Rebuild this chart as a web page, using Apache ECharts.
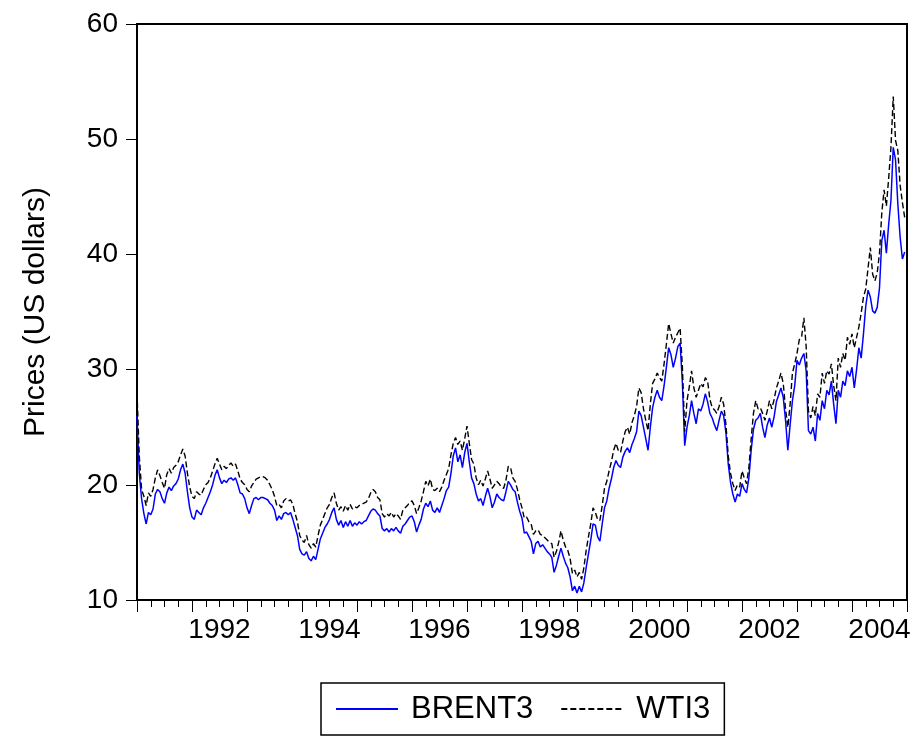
<!DOCTYPE html>
<html>
<head>
    <meta charset="utf-8" />
    <title>Brent vs WTI</title>
    <script src="https://cdn.jsdelivr.net/npm/echarts@6/dist/echarts.min.js"></script>
    <style>
        body { margin: 0; padding: 0; background: #fff; }
        #main { width: 920px; height: 736px; }
    </style>
</head>
<body>
<div id="main"></div>
<script type="text/javascript">
    // semimonthly observations, 24 per year, starting Jan 1991
    var startYear = 1991;
    var perYear = 24;
    var yearLabels = ['1991', '1992', '1993', '1994', '1995', '1996', '1997',
        '1998', '1999', '2000', '2001', '2002', '2003', '2004'];
    var yTicks = [10, 20, 30, 40, 50, 60];

    var brent = [
        26.0, 21.0, 18.8, 17.5, 16.6, 17.6, 17.4, 17.9, 19.2, 19.6, 19.4, 18.8, 18.4, 19.3, 19.8, 19.5, 19.9, 20.1, 20.5, 21.3, 21.8, 21.0, 19.4, 18.0,
        17.2, 17.0, 17.8, 17.6, 17.4, 18.0, 18.4, 18.9, 19.4, 20.0, 20.8, 21.3, 20.6, 20.1, 20.4, 20.2, 20.5, 20.6, 20.4, 20.6, 20.0, 19.3, 19.2, 18.8,
        18.0, 17.5, 18.2, 18.8, 18.9, 18.7, 18.9, 18.9, 18.8, 18.7, 18.4, 18.2, 17.8, 16.9, 17.3, 17.0, 17.5, 17.6, 17.4, 17.6, 17.0, 16.3, 15.6, 14.4,
        14.0, 13.9, 14.2, 13.6, 13.4, 13.8, 13.5, 14.4, 15.3, 15.8, 16.3, 16.6, 17.0, 17.6, 18.0, 17.0, 16.5, 16.9, 16.3, 16.8, 16.4, 16.9, 16.4, 16.7,
        16.5, 16.8, 16.6, 16.8, 16.9, 17.3, 17.7, 17.9, 17.8, 17.5, 17.3, 16.2, 16.0, 16.2, 15.9, 16.2, 16.0, 16.3, 16.0, 15.8, 16.4, 16.6, 16.9, 17.2,
        17.3, 16.8, 15.9, 16.5, 17.0, 17.9, 18.4, 18.1, 18.6, 17.8, 17.6, 18.0, 17.6, 18.2, 18.8, 19.5, 19.8, 21.0, 22.5, 23.2, 22.0, 22.6, 21.5, 22.8,
        23.6, 22.0, 20.6, 20.1, 19.2, 18.6, 18.8, 18.2, 19.0, 19.7, 19.0, 18.0, 18.5, 19.2, 18.9, 18.7, 18.6, 19.4, 20.3, 20.0, 19.6, 19.4, 18.5, 17.7,
        17.1, 15.8, 15.9, 15.5, 15.1, 14.0, 14.9, 15.1, 14.6, 14.8, 14.5, 14.2, 14.0, 13.7, 12.4, 13.0, 13.8, 14.5, 13.8, 13.2, 12.8, 12.0, 10.8, 11.2,
        10.6, 11.2, 10.7, 11.5, 12.8, 14.0, 15.2, 16.6, 16.5, 15.5, 15.1, 16.6, 18.0, 18.6, 19.7, 20.5, 21.5, 22.1, 21.7, 21.5, 22.4, 22.9, 23.2, 22.8,
        23.5, 24.0, 24.6, 26.4, 26.0, 25.0, 24.0, 23.0, 25.0, 26.7, 27.6, 28.2, 27.6, 27.3, 28.6, 30.2, 31.9, 31.3, 30.2, 31.0, 32.0, 32.3, 28.8, 23.4,
        25.0, 26.0, 27.3, 26.2, 25.3, 26.6, 26.4, 27.0, 27.9, 27.2, 26.2, 25.8, 25.2, 24.7, 25.6, 26.4, 26.0, 24.5, 21.8, 20.2, 19.2, 18.5, 19.2, 19.0,
        20.1, 19.6, 19.3, 20.6, 23.0, 24.8, 25.6, 25.8, 26.2, 25.0, 24.1, 25.2, 25.8, 25.0, 25.9, 27.2, 27.8, 28.4, 27.6, 25.6, 23.0, 25.2, 27.3, 28.6,
        30.8, 30.4, 31.0, 31.4, 29.9, 24.7, 24.4, 25.0, 23.8, 26.2, 25.6, 27.3, 26.6, 28.2, 27.8, 29.0, 27.0, 25.3, 28.2, 27.6, 29.0, 28.6, 29.9, 29.4,
        30.2, 28.4, 30.0, 31.9, 31.0, 33.1, 35.5, 36.9, 36.3, 35.1, 34.9, 35.4, 37.1, 41.2, 42.1, 40.1, 42.6, 44.7, 49.3, 48.2, 44.4, 41.5, 39.6, 40.2
    ];

    var wti = [
        28.0, 22.5, 19.6, 19.0, 18.2, 19.3, 19.0, 19.6, 20.6, 21.3, 20.8, 20.2, 19.7, 20.9, 21.4, 21.0, 21.5, 21.7, 22.0, 22.6, 23.1, 22.5, 21.0, 19.8,
        19.0, 18.8, 19.4, 19.2, 19.1, 19.6, 20.0, 20.2, 20.6, 21.2, 21.8, 22.3, 21.8, 21.3, 21.6, 21.4, 21.7, 21.9, 21.6, 21.8, 21.2, 20.5, 20.2, 20.0,
        19.6, 19.4, 19.9, 20.2, 20.5, 20.6, 20.7, 20.7, 20.6, 20.4, 20.0, 19.6, 19.0, 18.2, 18.3, 18.0, 18.6, 18.8, 18.6, 18.7, 18.3, 17.5, 16.8, 15.6,
        15.2, 15.0, 15.6, 14.8, 14.5, 14.9, 14.6, 15.6, 16.5, 17.0, 17.5, 18.0, 18.3, 18.9, 19.3, 18.4, 17.8, 18.1, 17.7, 18.2, 17.8, 18.3, 17.9, 18.1,
        18.0, 18.2, 18.3, 18.4, 18.5, 18.8, 19.3, 19.6, 19.4, 18.9, 18.7, 17.5, 17.2, 17.5, 17.3, 17.6, 17.2, 17.5, 17.3, 17.0, 17.8, 18.0, 18.2, 18.5,
        18.6, 18.2, 17.5, 18.0, 18.6, 19.4, 20.3, 19.9, 20.5, 19.6, 19.5, 19.7, 19.4, 19.8, 20.4, 20.9, 21.4, 22.6, 23.6, 24.1, 23.5, 23.8, 23.0, 24.0,
        25.1, 23.6, 22.2, 21.8, 20.6, 20.0, 20.4, 19.9, 20.5, 21.2, 20.5, 19.7, 20.0, 20.3, 20.1, 19.8, 19.7, 20.4, 21.6, 21.5, 20.6, 20.3, 19.6, 18.7,
        18.0, 17.1, 17.2, 16.8, 16.6, 15.7, 16.0, 16.1, 15.7, 15.6, 15.4, 15.2, 15.0, 14.9, 13.7, 14.2, 15.0, 16.0, 15.2, 14.6, 14.3, 13.6, 12.3, 12.6,
        12.0, 12.4, 11.8, 12.8, 14.3, 15.5, 16.6, 18.0, 17.6, 17.0, 16.9, 18.2, 19.7, 20.3, 21.2, 22.0, 23.0, 23.6, 23.0, 22.8, 23.8, 24.6, 25.0, 24.4,
        25.4, 26.0, 26.8, 28.4, 28.0, 26.6, 25.6, 24.7, 27.0, 28.8, 29.2, 29.7, 29.3, 29.0, 30.5, 32.2, 34.0, 33.1, 32.3, 32.8, 33.2, 33.6, 30.2, 24.6,
        27.3, 28.5, 29.9, 28.4, 27.6, 28.2, 28.8, 28.5, 29.3, 29.0, 27.4, 26.7, 26.5, 26.2, 26.8, 27.6, 27.0, 25.2, 22.5, 21.0, 20.1, 19.5, 20.0, 19.8,
        21.2, 20.6, 20.1, 21.5, 24.0, 26.2, 27.3, 26.6, 26.7, 26.2, 25.6, 26.4, 27.3, 26.6, 27.4, 28.4, 29.0, 29.7, 28.8, 26.6, 25.0, 27.0, 29.7, 30.5,
        31.4, 32.6, 32.8, 34.5, 32.0, 26.4, 25.8, 26.8, 26.0, 27.9, 27.6, 29.7, 28.8, 29.9, 29.6, 30.5, 28.6, 27.3, 31.0, 30.2, 31.4, 30.8, 32.8, 32.2,
        33.1, 31.9, 32.8, 33.7, 34.9, 36.3, 37.0, 38.8, 40.6, 38.3, 37.7, 38.4, 40.1, 43.6, 45.6, 44.2, 46.6, 49.3, 53.7, 49.9, 49.0, 46.0, 44.5, 43.2
    ];

    function toPairs(values) {
        return values.map(function (v, i) {
            return [startYear + i / perYear, v];
        });
    }

    var fontName = 'Liberation Sans';
    var myChart = echarts.init(document.getElementById('main'));

    var option = {
        animation: false,
        backgroundColor: '#fff',
        textStyle: { fontFamily: fontName, color: '#000' },
        grid: {
            left: 137,
            right: 13,
            top: 24,
            bottom: 136,
            show: true,
            borderColor: '#000',
            borderWidth: 2
        },
        legend: {
            left: 321,
            top: 683,
            padding: [10, 14, 10, 14],
            borderColor: '#000',
            borderWidth: 1.5,
            itemWidth: 62,
            itemHeight: 14,
            itemGap: 27,
            itemStyle: { opacity: 0 },
            textStyle: { fontFamily: fontName, fontSize: 31, color: '#000', padding: [0, 0, 0, 8], lineHeight: 32 },
            data: ['BRENT3', 'WTI3']
        },
        xAxis: [
            {
                // quarterly minor ticks
                type: 'value',
                position: 'bottom',
                min: 1991,
                max: 2005,
                interval: 0.25,
                axisLine: { show: true, lineStyle: { color: '#000', width: 2 } },
                axisTick: { show: true, length: 7, lineStyle: { color: '#000', width: 1 } },
                axisLabel: { show: false },
                splitLine: { show: false }
            },
            {
                // yearly major ticks, labels in the middle of each year
                type: 'category',
                position: 'bottom',
                data: yearLabels,
                boundaryGap: true,
                axisLine: { show: false },
                axisTick: { show: true, length: 12, interval: 0, alignWithLabel: false, lineStyle: { color: '#000', width: 1 } },
                axisLabel: {
                    interval: function (index, value) { return Number(value) % 2 === 0; },
                    fontFamily: fontName,
                    fontSize: 28,
                    color: '#000',
                    margin: 16
                },
                splitLine: { show: false }
            }
        ],
        yAxis: {
            type: 'value',
            min: yTicks[0],
            max: yTicks[yTicks.length - 1],
            interval: 10,
            name: 'Prices (US dollars)',
            nameLocation: 'middle',
            nameGap: 86,
            nameTextStyle: { fontFamily: fontName, fontSize: 30, color: '#000' },
            axisLine: { show: true, lineStyle: { color: '#000', width: 2 } },
            axisTick: { show: true, length: 11, lineStyle: { color: '#000', width: 1 } },
            axisLabel: { fontFamily: fontName, fontSize: 28, color: '#000', margin: 19 },
            splitLine: { show: false }
        },
        series: [
            {
                name: 'BRENT3',
                type: 'line',
                xAxisIndex: 0,
                data: toPairs(brent),
                symbol: 'none',
                lineStyle: { color: '#0000ff', width: 1.5 },
                itemStyle: { color: '#0000ff' }
            },
            {
                name: 'WTI3',
                type: 'line',
                xAxisIndex: 0,
                data: toPairs(wti),
                symbol: 'none',
                lineStyle: { color: '#000', width: 1.4, type: [6, 3] },
                itemStyle: { color: '#000' }
            }
        ]
    };

    myChart.setOption(option);
</script>
</body>
</html>
